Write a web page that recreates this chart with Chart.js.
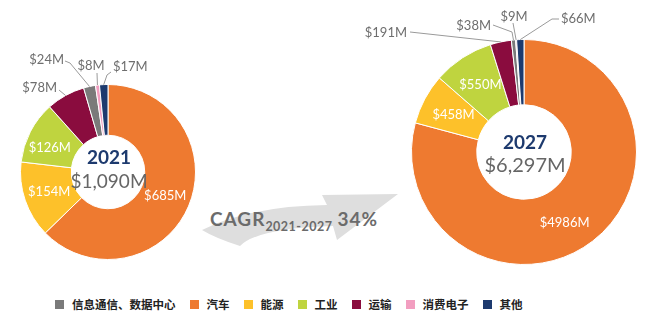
<!DOCTYPE html>
<html>
<head>
<meta charset="utf-8">
<script src="https://cdn.jsdelivr.net/npm/chart.js@4.4.1/dist/chart.umd.min.js"></script>
<style>
  body { margin: 0; background: #fff; }
  #wrap { position: relative; width: 652px; height: 329px; overflow: hidden; font-family: Lato, sans-serif; }
  canvas { position: absolute; }
  #arrow { position: absolute; left: 0; top: 0; }
  #cagr { position: absolute; left: 210px; top: 207px; color: #6b6b6b; font-weight: bold; font-size: 19px; letter-spacing: 1px; white-space: nowrap; }
  #cagr sub { font-size: 12.5px; letter-spacing: 0.5px; vertical-align: -5px; margin-right: 5px; }
  #legend { position: absolute; left: 55px; top: 296px; display: flex; gap: 14px; font-family: "Noto Sans CJK SC", sans-serif; font-weight: bold; font-size: 11.5px; color: #222; }
  #legend span.item { display: flex; align-items: center; }
  #legend i { display: inline-block; width: 9px; height: 9px; margin-right: 8px; }
</style>
</head>
<body>
<div id="wrap">
  <svg id="arrow" width="652" height="329">
    <path d="M202,230 Q250,206 327,205 L322,195 L398,194 L337,240 L333,226 Q258,228 240,246 Q215,238 202,230 Z" fill="#dedede"/>
  </svg>
  <div id="cagr">CAGR<sub>2021-2027</sub>34%</div>
  <canvas id="c2021" width="220" height="280" style="left:0;top:0"></canvas>
  <canvas id="c2027" width="322" height="290" style="left:330px;top:0"></canvas>
  <div id="legend"></div>
</div>
<script>
// legend order
var categories = ['信息通信、数据中心', '汽车', '能源', '工业', '运输', '消费电子', '其他'];
var colors = ['#7a7a7a', '#ee7a30', '#fdc12a', '#bfd43f', '#8a0c3e', '#f29ec0', '#1d3a6e'];
var values2021 = [24, 685, 154, 126, 78, 8, 17];
var values2027 = [38, 4986, 458, 550, 191, 9, 66];
// order of slices clockwise from 12 o'clock
var ringOrder = [1, 2, 3, 4, 0, 5, 6];
var years = ['2021', '2027'];
var totals = ['$1,090M', '$6,297M'];

function ringData(values) {
  return {
    labels: ringOrder.map(function (i) { return categories[i]; }),
    datasets: [{
      data: ringOrder.map(function (i) { return values[i]; }),
      backgroundColor: ringOrder.map(function (i) { return colors[i]; }),
      borderColor: '#fff',
      borderWidth: 1
    }]
  };
}

var labelPlugin = {
  id: 'sliceLabels',
  afterDraw: function (chart, args, opts) {
    var ctx = chart.ctx;
    var arcs = chart.getDatasetMeta(0).data;
    var vals = chart.data.datasets[0].data;
    var cx = arcs[0].x, cy = arcs[0].y;
    ctx.save();
    arcs.forEach(function (arc, k) {
      var cat = ringOrder[k];
      var txt = '$' + vals[k] + 'M';
      var out = opts.outside[cat];
      if (!out) {
        var p = arc.tooltipPosition();
        var sh = opts.shift[cat] || [0, 0];
        ctx.fillStyle = '#fff';
        ctx.font = '13px Lato';
        ctx.textAlign = 'center';
        ctx.textBaseline = 'middle';
        ctx.fillText(txt, p.x + sh[0], p.y + sh[1]);
        return;
      }
      var mid = (arc.startAngle + arc.endAngle) / 2;
      var ex = cx + Math.cos(mid) * arc.outerRadius;
      var ey = cy + Math.sin(mid) * arc.outerRadius;
      ctx.strokeStyle = '#9a9a9a';
      ctx.lineWidth = 1;
      ctx.beginPath();
      ctx.moveTo(cx + out.line[0][0], cy + out.line[0][1]);
      for (var j = 1; j < out.line.length; j++) ctx.lineTo(cx + out.line[j][0], cy + out.line[j][1]);
      ctx.lineTo(ex, ey);
      ctx.stroke();
      ctx.fillStyle = '#6e6e6e';
      ctx.font = '13px Lato';
      ctx.textAlign = out.align;
      ctx.textBaseline = 'middle';
      ctx.fillText(txt, cx + out.at[0], cy + out.at[1]);
    });
    // centre text
    ctx.textAlign = 'center';
    ctx.textBaseline = 'middle';
    ctx.fillStyle = '#1d3a6e';
    ctx.font = 'bold 19px Lato';
    ctx.fillText(opts.year, cx + 1, cy + opts.yearDy);
    ctx.fillStyle = '#666';
    ctx.font = opts.totalFont;
    ctx.fillText(opts.total, cx + 1, cy + opts.totalDy);
    ctx.restore();
  }
};

function makeChart(id, values, pad, labelOpts) {
  return new Chart(document.getElementById(id), {
    type: 'doughnut',
    data: ringData(values),
    options: {
      responsive: false,
      animation: false,
      devicePixelRatio: 1,
      cutout: '42%',
      layout: { padding: pad },
      plugins: {
        legend: { display: false },
        tooltip: { enabled: false },
        sliceLabels: labelOpts
      }
    },
    plugins: [labelPlugin]
  });
}

makeChart('c2021', values2021, { left: 20, right: 24, top: 84, bottom: 20 }, {
  year: years[0], total: totals[0], yearDy: -14, totalDy: 10, totalFont: '19px Lato',
  shift: { 3: [-3, 4] },
  outside: {
    4: { at: [-51, -84], align: 'right', line: [[-49, -82]] },
    0: { at: [-44, -112], align: 'right', line: [[-43, -111], [-38, -109]] },
    5: { at: [-17, -106], align: 'center', line: [[-11, -99]] },
    6: { at: [5, -105], align: 'left', line: [[3, -100], [-1, -97]] }
  }
});

makeChart('c2027', values2027, { left: 81, right: 15, top: 39, bottom: 25 }, {
  year: years[1], total: totals[1], yearDy: -9, totalDy: 14, totalFont: '20px Lato',
  shift: { 1: [-8, 7] },
  outside: {
    4: { at: [-117, -119], align: 'right', line: [[-114, -120]] },
    0: { at: [-33, -126], align: 'right', line: [[-31, -127], [-12, -120]] },
    5: { at: [-10, -135], align: 'center', line: [[-11, -129]] },
    6: { at: [37, -133], align: 'left', line: [[35, -133], [28, -133]] }
  }
});

var legend = document.getElementById('legend');
categories.forEach(function (name, i) {
  var s = document.createElement('span');
  s.className = 'item';
  s.innerHTML = '<i style="background:' + colors[i] + '"></i>' + name;
  legend.appendChild(s);
});
</script>
</body>
</html>
